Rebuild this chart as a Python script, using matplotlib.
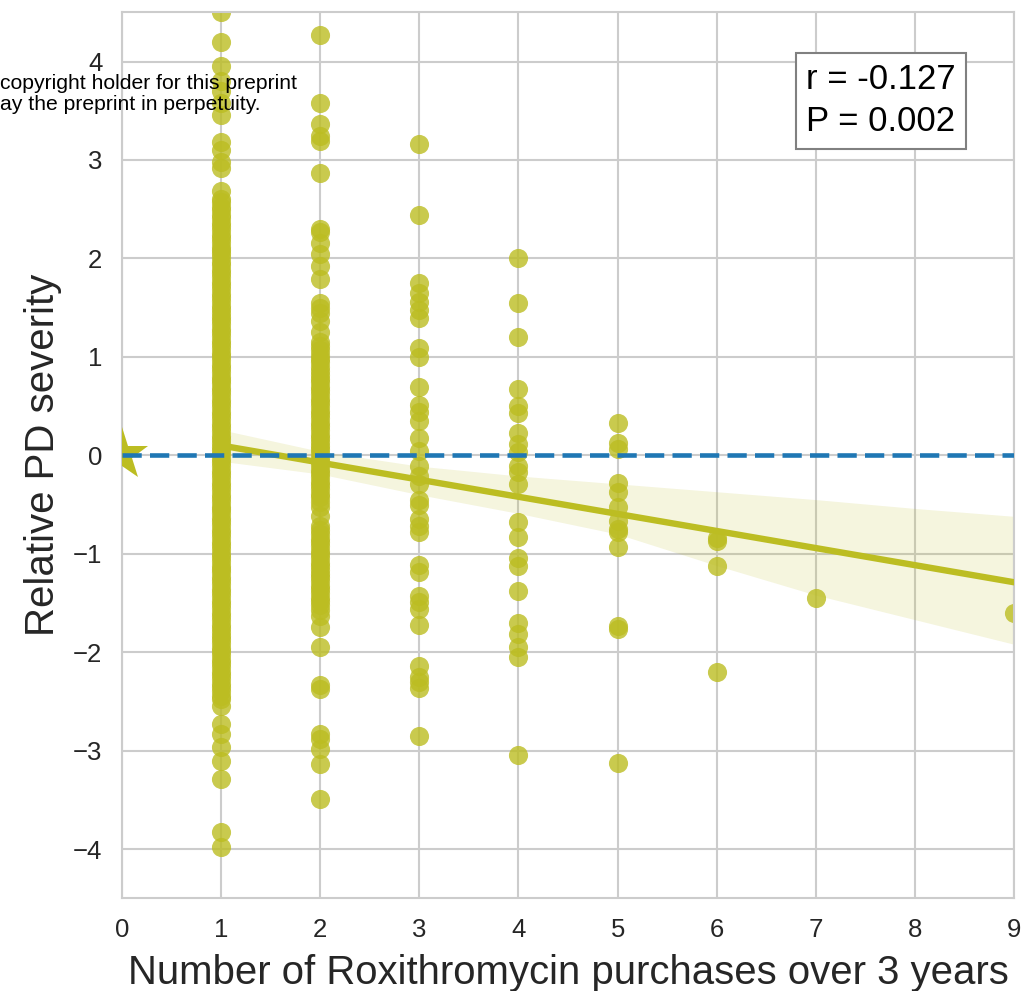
import matplotlib
matplotlib.use("Agg")
import matplotlib.pyplot as plt

plt.rcParams['font.family'] = ['Liberation Sans', 'DejaVu Sans']

# ---- data ----
y_x1 = [4.50, 4.20, 3.95, 3.80, 3.70, 3.58, 3.46, 3.18, 3.10, 2.98, 2.92, 2.68, 2.60,
        2.57, 2.52, 2.49, 2.44, 2.41, 2.36, 2.33, 2.29, 2.24, 2.21, 2.17, 2.12, 2.09,
        2.05, 2.01, 1.96, 1.93, 1.88, 1.85, 1.81, 1.76, 1.73, 1.69, 1.64, 1.61, 1.57,
        1.52, 1.49, 1.45, 1.40, 1.37, 1.33, 1.28, 1.25, 1.21, 1.16, 1.13, 1.09, 1.04,
        1.01, 0.97, 0.92, 0.89, 0.85, 0.80, 0.77, 0.73, 0.68, 0.65, 0.61, 0.56, 0.53,
        0.49, 0.44, 0.41, 0.37, 0.32, 0.29, 0.25, 0.20, 0.17, 0.13, 0.08, 0.05, 0.01,
        -0.04, -0.07, -0.11, -0.16, -0.19, -0.23, -0.28, -0.31, -0.35, -0.40, -0.43,
        -0.47, -0.52, -0.55, -0.59, -0.64, -0.67, -0.71, -0.76, -0.79, -0.83, -0.88,
        -0.91, -0.95, -1.00, -1.03, -1.07, -1.12, -1.15, -1.19, -1.24, -1.27, -1.31,
        -1.36, -1.39, -1.43, -1.48, -1.51, -1.55, -1.60, -1.63, -1.67, -1.72, -1.75,
        -1.79, -1.84, -1.87, -1.91, -1.96, -1.99, -2.03, -2.08, -2.11, -2.15, -2.20,
        -2.23, -2.27, -2.32, -2.35, -2.39, -2.44, -2.48, -2.55, -2.73, -2.83, -2.96,
        -3.10, -3.29, -3.83, -3.98]
y_x2 = [4.27, 3.58, 3.37, 3.24, 3.19, 2.87, 2.30, 2.27, 2.16, 2.04, 1.92, 1.79, 1.55,
        1.50, 1.45, 1.36, 1.25, 1.15, 1.11, 1.07, 1.02, 0.98, 0.95, 0.90, 0.86, 0.82,
        0.78, 0.74, 0.69, 0.66, 0.62, 0.57, 0.54, 0.50, 0.45, 0.42, 0.38, 0.33, 0.30,
        0.26, 0.21, 0.18, 0.14, 0.09, 0.06, 0.02, -0.03, -0.06, -0.10, -0.15, -0.18,
        -0.22, -0.27, -0.30, -0.34, -0.39, -0.42, -0.47, -0.52, -0.62, -0.72, -0.76,
        -0.80, -0.85, -0.88, -0.92, -0.97, -1.00, -1.04, -1.09, -1.12, -1.16, -1.21,
        -1.24, -1.28, -1.33, -1.36, -1.40, -1.45, -1.48, -1.52, -1.57, -1.63, -1.74,
        -1.95, -2.33, -2.37, -2.83, -2.88, -2.98, -3.14, -3.49]
y_x3 = [3.16, 2.44, 1.75, 1.65, 1.56, 1.48, 1.39, 1.09, 1.00, 0.69, 0.51, 0.44, 0.35,
        0.18, 0.04, -0.11, -0.21, -0.29, -0.45, -0.50, -0.65, -0.72, -0.78, -1.11,
        -1.19, -1.43, -1.49, -1.56, -1.72, -2.14, -2.25, -2.30, -2.36, -2.85]
y_x4 = [2.00, 1.55, 1.20, 0.67, 0.50, 0.43, 0.23, 0.11, 0.03, -0.11, -0.17, -0.29,
        -0.68, -0.83, -1.04, -1.12, -1.38, -1.70, -1.82, -1.95, -2.05, -3.04]
y_x5 = [0.33, 0.13, 0.06, -0.28, -0.37, -0.53, -0.67, -0.75, -0.78, -0.93, -1.73,
        -1.76, -3.13]
y_x6 = [-0.84, -0.87, -1.12, -2.20]
y_x7 = [-1.45]
y_x9 = [-1.60]
groups = {1: y_x1, 2: y_x2, 3: y_x3, 4: y_x4, 5: y_x5, 6: y_x6, 7: y_x7, 9: y_x9}

# regression line and confidence band
fit_x = [1, 9]
fit_y = [0.10, -1.29]
band_x = [1, 2, 3, 4, 5, 6, 7, 8, 9]
band_hi = [0.26, 0.04, -0.11, -0.21, -0.29, -0.37, -0.45, -0.54, -0.62]
band_lo = [-0.06, -0.19, -0.40, -0.59, -0.80, -1.12, -1.42, -1.67, -1.92]

star_x = [0]
star_y = [0]

x_ticks = [0, 1, 2, 3, 4, 5, 6, 7, 8, 9]
y_ticks = [-4, -3, -2, -1, 0, 1, 2, 3, 4]

stats_text = "r = -0.127\nP = 0.002"
xlabel = "Number of Roxithromycin purchases over 3 years"
ylabel = "Relative PD severity"
wm_line1 = "copyright holder for this preprint"
wm_line2 = "ay the preprint in perpetuity."

# ---- drawing ----
OLIVE = '#bcbd22'
GRID = '#cccccc'
TXT = '#262626'

fig = plt.figure(figsize=(10.28, 9.91), dpi=100)
ax = fig.add_axes([0.1184, 0.0935, 0.8684, 0.8941])
ax.set_facecolor('white')

xs, ys = [], []
for k, vals in groups.items():
    xs.extend([k] * len(vals))
    ys.extend(vals)
ax.scatter(xs, ys, s=190, color=OLIVE, alpha=0.8, linewidths=0, zorder=2)

ax.fill_between(band_x, band_lo, band_hi, color=OLIVE, alpha=0.15, linewidth=0, zorder=2.5)
ax.plot(fit_x, fit_y, color=OLIVE, lw=4.6, zorder=3, solid_capstyle='butt')

ax.plot(star_x, star_y, marker='*', ms=40, color=OLIVE, ls='none', zorder=3, mew=0)
ax.axhline(0, color='#1f77b4', lw=3.3, ls='--', dashes=(4.2, 1.8), zorder=5)

ax.set_xlim(0, 9)
ax.set_ylim(-4.5, 4.5)
ax.set_xticks(x_ticks)
ax.set_yticks(y_ticks)
ax.grid(True, color=GRID, lw=1.5, zorder=0)
ax.set_axisbelow(True)
for sp in ax.spines.values():
    sp.set_color(GRID)
    sp.set_linewidth(1.5)
ax.tick_params(axis='both', length=0, labelsize=18.5, labelcolor=TXT)
ax.tick_params(axis='x', pad=14)
ax.tick_params(axis='y', pad=14)

ax.set_xlabel(xlabel, fontsize=28.9, color=TXT)
ax.set_ylabel(ylabel, fontsize=29, color=TXT)
ax.xaxis.set_label_coords(0.5, -0.063)
ax.yaxis.set_label_coords(-0.0672, 0.5)

ax.text(0.8506, 0.9004, stats_text, transform=ax.transAxes, ha='center', va='center',
        fontsize=25, color='black', zorder=6, linespacing=1.35,
        bbox=dict(boxstyle='square,pad=0.3', fc='white', ec='#808080', lw=1.5))

fig.text(0.0, 1 - 89 / 991, wm_line1, ha='left', va='baseline', fontsize=15.2, color='black')
fig.text(0.0, 1 - 110.5 / 991, wm_line2, ha='left', va='baseline', fontsize=15.2, color='black')

fig.savefig('out.png', dpi=100, facecolor='white')
